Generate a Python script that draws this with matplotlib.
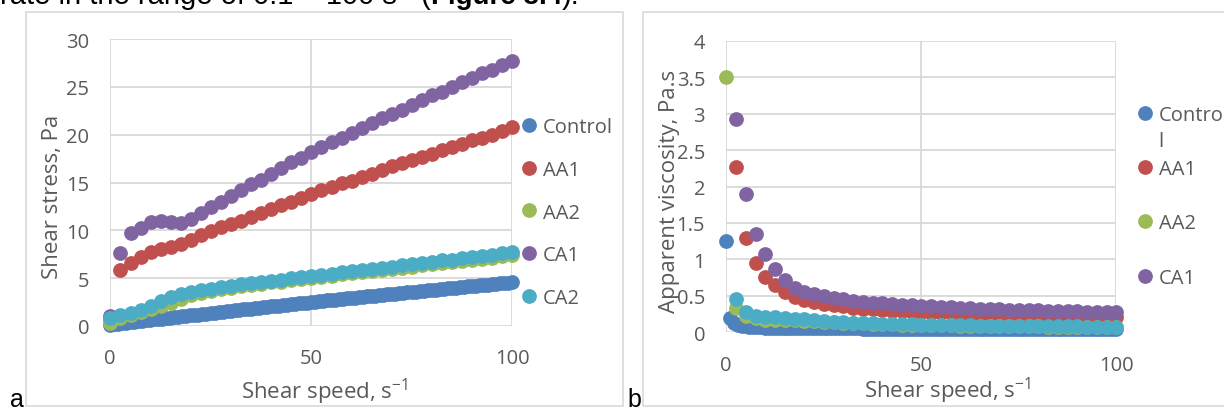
import numpy as np
import matplotlib
matplotlib.use('Agg')
import matplotlib.pyplot as plt
from matplotlib.patches import Rectangle

# --- data ---
shear_speed = [0.1, 2.6, 5.1, 7.6, 10.1, 12.6, 15.1, 17.6, 20.1, 22.6,
               25.1, 27.6, 30.1, 32.6, 35.1, 37.6, 40.1, 42.6, 45.1, 47.6,
               50.1, 52.6, 55.1, 57.6, 60.1, 62.6, 65.1, 67.6, 70.1, 72.6,
               75.1, 77.6, 80.1, 82.6, 85.1, 87.6, 90.1, 92.6, 95.1, 97.6, 100.1]

control_speed = [0.1, 1, 2, 3, 4, 5, 6, 7, 8, 9, 10,
                 11, 12, 13, 14, 15, 16, 17, 18, 19, 20,
                 21, 22, 23, 24, 25, 26, 27, 28, 29, 30,
                 31, 32, 33, 34, 35, 36, 37, 38, 39, 40,
                 41, 42, 43, 44, 45, 46, 47, 48, 49, 50,
                 51, 52, 53, 54, 55, 56, 57, 58, 59, 60,
                 61, 62, 63, 64, 65, 66, 67, 68, 69, 70,
                 71, 72, 73, 74, 75, 76, 77, 78, 79, 80,
                 81, 82, 83, 84, 85, 86, 87, 88, 89, 90,
                 91, 92, 93, 94, 95, 96, 97, 98, 99, 100]

control_stress = [0.125, 0.2, 0.25, 0.3, 0.35, 0.4, 0.45, 0.5, 0.55, 0.6, 0.65,
                  0.7, 0.74, 0.78, 0.82, 0.86, 0.9, 0.95, 1.0, 1.05, 1.1,
                  1.15, 1.2, 1.25, 1.3, 1.35, 1.4, 1.45, 1.5, 1.55, 1.6,
                  1.64, 1.69, 1.73, 1.78, 1.82, 1.87, 1.91, 1.96, 2.0, 2.05,
                  2.09, 2.14, 2.18, 2.23, 2.27, 2.32, 2.36, 2.41, 2.45, 2.5,
                  2.54, 2.59, 2.63, 2.67, 2.71, 2.76, 2.8, 2.84, 2.89, 2.93,
                  2.97, 3.01, 3.06, 3.1, 3.14, 3.18, 3.22, 3.27, 3.31, 3.35,
                  3.39, 3.43, 3.47, 3.51, 3.56, 3.6, 3.64, 3.68, 3.72, 3.76,
                  3.8, 3.84, 3.88, 3.92, 3.97, 4.01, 4.05, 4.09, 4.13, 4.17,
                  4.21, 4.25, 4.29, 4.33, 4.37, 4.41, 4.45, 4.49, 4.53, 4.57]

aa1_stress = [0.7, 5.9, 6.6, 7.2, 7.7, 8.1, 8.3, 8.6, 9.0, 9.5,
              9.9, 10.3, 10.7, 11.0, 11.4, 11.8, 12.2, 12.6, 13.0, 13.4,
              13.8, 14.2, 14.5, 14.9, 15.2, 15.6, 15.9, 16.3, 16.7, 17.0,
              17.4, 17.7, 18.0, 18.4, 18.7, 19.0, 19.4, 19.7, 20.0, 20.4, 20.8]

aa2_stress = [0.35, 0.85, 1.15, 1.45, 1.75, 2.05, 2.45, 2.85, 3.25, 3.5,
              3.7, 3.85, 4.0, 4.15, 4.3, 4.4, 4.55, 4.65, 4.8, 4.9,
              5.0, 5.15, 5.25, 5.4, 5.5, 5.6, 5.75, 5.85, 5.95, 6.1,
              6.2, 6.35, 6.45, 6.55, 6.7, 6.8, 6.95, 7.05, 7.15, 7.3, 7.45]

ca1_stress = [1.0, 7.6, 9.7, 10.2, 10.9, 11.0, 10.9, 10.8, 11.2, 11.8,
              12.4, 13.0, 13.6, 14.2, 14.8, 15.3, 15.9, 16.5, 17.1, 17.6,
              18.2, 18.7, 19.2, 19.7, 20.2, 20.7, 21.2, 21.7, 22.2, 22.6,
              23.1, 23.6, 24.1, 24.5, 25.0, 25.5, 25.9, 26.4, 26.8, 27.3, 27.7]

ca2_stress = [0.8, 1.2, 1.4, 1.7, 2.1, 2.6, 3.0, 3.3, 3.55, 3.75,
              3.9, 4.05, 4.2, 4.35, 4.5, 4.6, 4.75, 4.85, 5.0, 5.1,
              5.2, 5.35, 5.45, 5.6, 5.7, 5.85, 5.95, 6.1, 6.2, 6.35,
              6.45, 6.6, 6.7, 6.85, 6.95, 7.1, 7.2, 7.35, 7.45, 7.6, 7.75]

names = ['Control', 'AA1', 'AA2', 'CA1', 'CA2']
colors = ['#4F81BD', '#C0504D', '#9BBB59', '#8064A2', '#4BACC6']

# viscosity = stress / shear speed
series = [(control_speed, control_stress), (shear_speed, aa1_stress),
          (shear_speed, aa2_stress), (shear_speed, ca1_stress),
          (shear_speed, ca2_stress)]

W, H = 1224, 410
fig = plt.figure(figsize=(W / 100, H / 100), dpi=100)

plt.rcParams['font.family'] = ['Open Sans', 'DejaVu Sans']
plt.rcParams['mathtext.fontset'] = 'custom'
plt.rcParams['mathtext.rm'] = 'Open Sans'
plt.rcParams['mathtext.it'] = 'Open Sans'
plt.rcParams['mathtext.default'] = 'regular'
TXT = '#595959'
GRID = '#D9D9D9'
MS = 9.6
TICK_FS = 14.5
LAB_FS = 16


def px_rect(x0, y0, x1, y1):
    # pixel box (top-left origin) -> figure fraction
    return [x0 / W, 1 - y1 / H, (x1 - x0) / W, (y1 - y0) / H]


def style(ax, ymax, ystep):
    ax.set_xlim(0, 100)
    ax.set_ylim(0, ymax)
    ax.set_xticks([0, 50, 100])
    ax.set_yticks(np.arange(0, ymax + ystep / 2, ystep))
    for s in ax.spines.values():
        s.set_visible(False)
    ax.grid(True, color=GRID, lw=1.3)
    ax.set_axisbelow(True)
    ax.tick_params(length=0, labelsize=TICK_FS, labelcolor=TXT)
    ax.tick_params(axis='y', pad=15)
    ax.tick_params(axis='x', pad=16)


# chart boxes
fig.add_artist(Rectangle((26 / W, 1 - 407 / H), (623 - 26) / W, (407 - 13) / H,
                         transform=fig.transFigure, fill=False, ec=GRID, lw=1.2))
fig.add_artist(Rectangle((643 / W, 1 - 407 / H), (1240 - 643) / W, (407 - 13) / H,
                         transform=fig.transFigure, fill=False, ec=GRID, lw=1.2))

# --- a: shear stress ---
ax1 = fig.add_axes(px_rect(110, 40, 512, 327))
style(ax1, 30, 5)
h1 = []
for (x, y), name, c in zip(series, names, colors):
    ln, = ax1.plot(x, y, 'o', ms=MS, color=c, mec=c, clip_on=False, label=name)
    h1.append(ln)
ax1.set_ylabel('Shear stress, Pa', fontsize=LAB_FS, color=TXT, va='center')
ax1.yaxis.set_label_coords(-0.144, 0.453)
ax1.set_xlabel('Shear speed, s$^{-1}$', fontsize=LAB_FS, color=TXT, va='center')
ax1.xaxis.set_label_coords(0.534, -0.225)
ax1.legend(handles=h1, loc='upper left', bbox_to_anchor=(521.5 / W, 1 - 118 / H),
           bbox_transform=fig.transFigure, frameon=False, fontsize=TICK_FS,
           labelcolor=TXT, handlelength=0.75, handletextpad=0.3,
           labelspacing=1.13, borderpad=0, borderaxespad=0)

# --- b: apparent viscosity ---
ax2 = fig.add_axes(px_rect(726, 41.7, 1116, 333.3))
style(ax2, 4, 0.5)
ax2.set_yticks([0, 0.5, 1, 1.5, 2, 2.5, 3, 3.5, 4])
ax2.set_yticklabels(['0', '0.5', '1', '1.5', '2', '2.5', '3', '3.5', '4'])
h2 = []
for (x, y), name, c in zip(series, names, colors):
    x = np.array(x)
    v = np.array(y) / x
    keep = v <= 4
    ln, = ax2.plot(x[keep], v[keep], 'o', ms=MS, color=c, mec=c, clip_on=False)
    h2.append(ln)
ax2.set_ylabel('Apparent viscosity, Pa.s', fontsize=LAB_FS, color=TXT, va='center')
ax2.yaxis.set_label_coords(-0.146, 0.486)
ax2.set_xlabel('Shear speed, s$^{-1}$', fontsize=LAB_FS, color=TXT, va='center')
ax2.xaxis.set_label_coords(0.569, -0.196)
ax2.legend(handles=h2[:4], labels=['Contro', 'AA1', 'AA2', 'CA1'],
           loc='upper left', bbox_to_anchor=(1137.5 / W, 1 - 106 / H),
           bbox_transform=fig.transFigure, frameon=False, fontsize=TICK_FS,
           labelcolor=TXT, handlelength=0.75, handletextpad=0.3,
           labelspacing=1.7, borderpad=0, borderaxespad=0)
fig.text(1158 / W, 1 - 142 / H, 'l', fontsize=TICK_FS, color=TXT, va='center')

# panel letters
fig.text(10 / W, 2.5 / H, 'a', fontsize=18, family='Liberation Sans', va='baseline')
fig.text(627 / W, 2.5 / H, 'b', fontsize=18, family='Liberation Sans', va='baseline')

# cut-off sentence above the figure
r = fig.canvas.get_renderer()
base = 1 - 4 / H
xpos = 0.0
pieces = [('rate in the range of 0.1 \u2013 100 s', 'normal', 0, 21),
          ('\u22121', 'normal', 10, 10),
          (' (', 'normal', 0, 21),
          ('Figure 3.4', 'bold', 0, 20),
          (').', 'normal', 0, 21)]
for s, wgt, rise, fs in pieces:
    t = fig.text(xpos, base + rise / H, s, fontsize=fs, fontweight=wgt,
                 family=['Liberation Sans', 'DejaVu Sans'], va='baseline')
    xpos += t.get_window_extent(r).width / W

fig.savefig('out.png', dpi=100)
